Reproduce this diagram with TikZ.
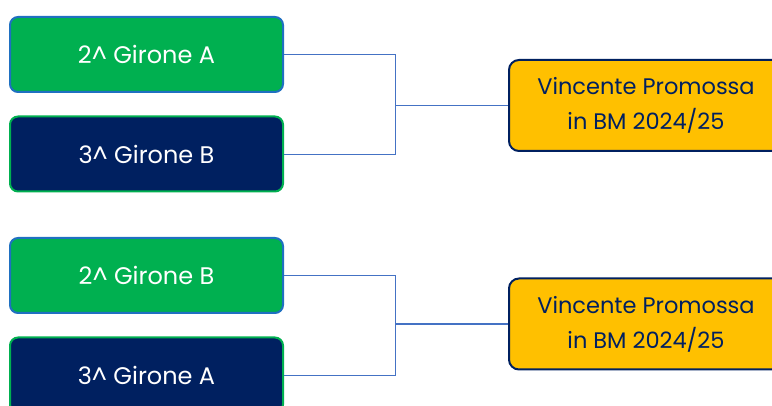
\documentclass[tikz,border=0pt]{standalone}
\usepackage{fontspec}
\setmainfont{Poppins}
\definecolor{grn}{HTML}{00B050}
\definecolor{navy}{HTML}{002060}
\definecolor{bblue}{HTML}{1F70C1}
\definecolor{yel}{HTML}{FFC000}
\definecolor{lnk}{HTML}{4472C4}
\tikzset{
  team/.style={rounded corners=8pt, minimum width=273pt, minimum height=75pt, line width=2pt, font=\fontsize{24}{28}\selectfont, text=white},
  firstbox/.style={team, fill=grn, draw=bblue},
  thirdbox/.style={team, fill=navy, draw=grn},
  winbox/.style={rounded corners=10pt, minimum width=274pt, minimum height=91pt, line width=2pt, fill=yel, draw=navy, text=navy, align=center, font=\fontsize{22.5}{35}\selectfont},
  link/.style={draw=lnk, line width=0.9pt},
  mainlink/.style={draw=lnk, line width=1.4pt}
}
\begin{document}
\begin{tikzpicture}[x=1pt,y=1pt]
\useasboundingbox (0,0) rectangle (772,-406);
\node[firstbox] (a1) at (146.5,-54.5) {2\^{} Girone A};
\node[thirdbox] (b1) at (146.5,-154) {3\^{} Girone B};
\node[firstbox] (a2) at (146.5,-275.5) {2\^{} Girone B};
\node[thirdbox] (b2) at (146.5,-375) {3\^{} Girone A};
\node[winbox] (w1) at (646,-105.5) {Vincente Promossa\\in BM 2024/25};
\node[winbox] (w2) at (646,-324) {Vincente Promossa\\in BM 2024/25};
\coordinate (j1) at (395.5,-105.5);
\coordinate (j2) at (395.5,-324);
\draw[link] (a1.east) -| (j1) |- (b1.east);
\draw[mainlink] (j1) -- (w1.west);
\draw[link] (a2.east) -| (j2) |- (b2.east);
\draw[mainlink] (j2) -- (w2.west);
\end{tikzpicture}
\end{document}
